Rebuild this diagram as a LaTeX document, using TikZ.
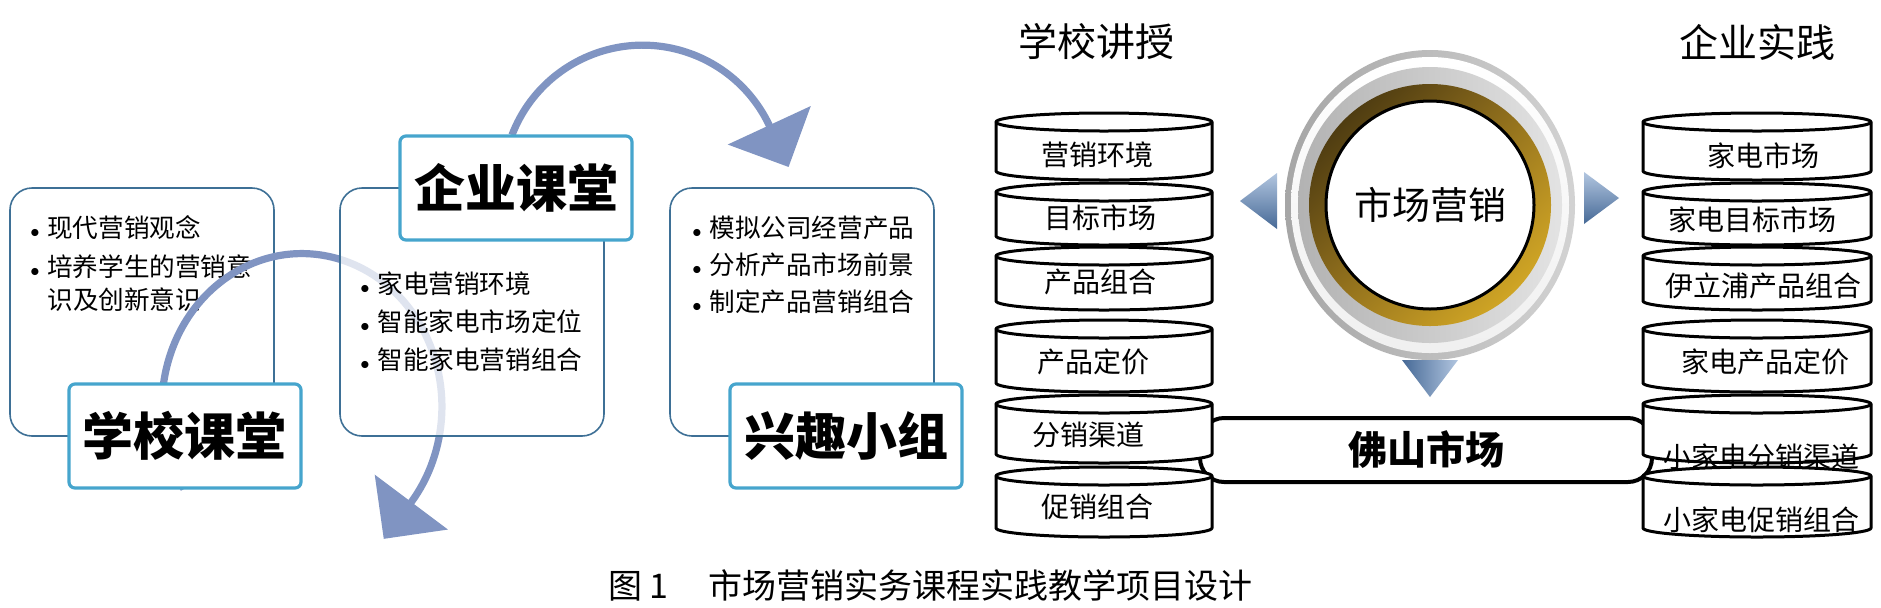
\documentclass[tikz,border=0pt]{standalone}
\usepackage{fontspec}
\setmainfont{Noto Sans CJK SC}
\definecolor{arcblue}{RGB}{128,148,194}
\definecolor{cardline}{RGB}{62,112,150}
\definecolor{tagline}{RGB}{70,165,205}
\definecolor{goldD}{RGB}{50,38,12}
\definecolor{goldM}{RGB}{150,115,30}
\definecolor{goldL}{RGB}{232,186,40}
\definecolor{triD}{RGB}{70,105,150}
\definecolor{triL}{RGB}{178,198,224}
\usetikzlibrary{calc, arrows.meta, shadings}
\newcommand{\bul}{\makebox[8.5pt][l]{\fontsize{9}{9}\selectfont$\bullet$}}

\begin{document}
\begin{tikzpicture}[x=0.5pt, y=-0.5pt,
  card/.style={draw=cardline, line width=0.8pt, rounded corners=11pt, fill=white,
    minimum width=132pt, minimum height=124pt, inner sep=0pt},
  tagbox/.style={draw=tagline, line width=1.6pt, rounded corners=3pt, fill=white,
    minimum width=116pt, minimum height=52pt, inner sep=0pt,
    font=\fontsize{25.5}{28}\selectfont\bfseries},
  item/.style={anchor=west, inner sep=0pt, font=\fontsize{12.8}{15}\selectfont},
  drum/.style={inner sep=0pt, font=\fontsize{14}{16}\selectfont},
  drumline/.style={fill=white, draw=black, line width=1.5pt, line join=round},
  head/.style={inner sep=0pt, font=\fontsize{19.5}{22}\selectfont},
  flow/.style={draw=arcblue, line width=3.6pt, -{Triangle[width=45pt,length=23pt]}},
]
  \fill[white] (0,0) rectangle (1881,607);
  \useasboundingbox (0,0) rectangle (1881,607);

  % left: course cards and the two circular arrows
  \node[card] (c1) at (142,312) {};
  \node[item] (i11) at (30,228) {\bul 现代营销观念};
  \node[item] (i12) at (30,267) {\bul 培养学生的营销意};
  \node[item] (i13) at (47,300) {识及创新意识};

  \coordinate (xkfoot) at (184,489);
  \draw[flow] (xkfoot) arc[start angle=-212.6, end angle=39, x radius=140, y radius=153] -- ++(-27,36);

  \node[card, fill opacity=0.75] (c2) at (472,312) {};
  \node[item] (i21) at (360,284) {\bul 家电营销环境};
  \node[item] (i22) at (360,322) {\bul 智能家电市场定位};
  \node[item] (i23) at (360,360) {\bul 智能家电营销组合};

  \node[card] (c3) at (802,312) {};
  \node[item] (i31) at (692,228) {\bul 模拟公司经营产品};
  \node[item] (i32) at (692,265) {\bul 分析产品市场前景};
  \node[item] (i33) at (692,302) {\bul 制定产品营销组合};

  \coordinate (qktop) at (512,135);
  \draw[flow] (qktop) arc[start angle=-159, end angle=-25, radius=140] -- ++(19,41);

  \node[tagbox] (xk) at (185,436) {学校课堂};
  \node[tagbox] (qk) at (516,188) {企业课堂};
  \node[tagbox] (xq) at (846,436) {兴趣小组};

  % right: two stacks round the market
  \node[head] (t1) at (1096,42) {学校讲授};
  \node[head] (t2) at (1757,42) {企业实践};

  \node[draw, line width=2pt, rounded corners=12pt, minimum width=226pt, minimum height=32pt,
    inner sep=0pt, font=\fontsize{19.5}{22}\selectfont\bfseries] (fs) at (1426,450) {佛山市场};

  \foreach \yt/\yb/\tx/\ty/\txt [count=\i] in {122/171/1097/155/营销环境, 192/236/1100/218/目标市场,
      256/301/1100/282/产品组合, 329/383/1093/362/产品定价, 404/454/1088/435/分销渠道,
      476/528/1097/507/促销组合}{
    \draw[drumline] (996,\yt) -- (996,\yb) arc[start angle=180, end angle=0, x radius=108, y radius=9]
      -- (1212,\yt) arc[start angle=0, end angle=-180, x radius=108, y radius=9] -- cycle;
    \draw[drumline, fill=none] (996,\yt) arc[start angle=180, end angle=0, x radius=108, y radius=9];
    \node[drum] (l\i) at (\tx,\ty) {\txt};
  }
  \foreach \yt/\yb/\tx/\ty/\txt [count=\i] in {122/171/1763/156/家电市场, 192/236/1752/220/家电目标市场,
      256/301/1763/286/伊立浦产品组合, 329/383/1765/362/家电产品定价, 404/454/1761/457/小家电分销渠道,
      476/528/1761/520/小家电促销组合}{
    \draw[drumline] (1643,\yt) -- (1643,\yb) arc[start angle=180, end angle=0, x radius=114, y radius=9]
      -- (1871,\yt) arc[start angle=0, end angle=-180, x radius=114, y radius=9] -- cycle;
    \draw[drumline, fill=none] (1643,\yt) arc[start angle=180, end angle=0, x radius=114, y radius=9];
    \node[drum] (r\i) at (\tx,\ty) {\txt};
  }

  % centre ring
  \coordinate (mc) at (1430,205);
  \shade[left color=gray!70, right color=gray!35] (mc) ellipse [x radius=145, y radius=155];
  \shade[top color=white, bottom color=gray!12] (mc) ellipse [x radius=139, y radius=148];
  \shade[left color=gray!60, right color=gray!22] (mc) ellipse [x radius=132, y radius=138];
  \shade[upper left=goldD, upper right=goldM, lower left=goldM, lower right=goldL] (mc) circle [radius=121];
  \filldraw[fill=white, draw=black, line width=1.5pt] (mc) circle [radius=104];
  \node[inner sep=0pt, font=\fontsize{19}{22}\selectfont] (mk) at (mc) {市场营销};

  \shade[top color=triL, bottom color=triD] ($(mc)+(-190,-4)$) -- ($(mc)+(-153,-32)$) -- ($(mc)+(-153,24)$) -- cycle;
  \shade[top color=triL, bottom color=triD] ($(mc)+(189,-7)$) -- ($(mc)+(154,-33)$) -- ($(mc)+(154,19)$) -- cycle;
  \shade[left color=triD, right color=triL] ($(mc)+(-28,155)$) -- ($(mc)+(28,155)$) -- ($(mc)+(0,192)$) -- cycle;

  \node[anchor=west, inner sep=0pt, font=\fontsize{17}{20}\selectfont] (cap) at (608,585)
    {图 1\hspace{20pt}市场营销实务课程实践教学项目设计};
\end{tikzpicture}
\end{document}
